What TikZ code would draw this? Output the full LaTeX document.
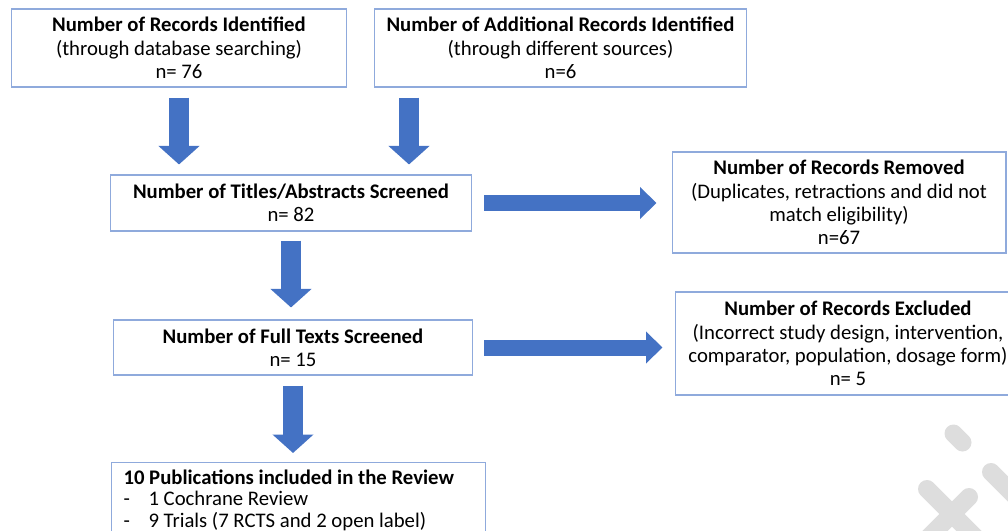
\documentclass[tikz,border=0pt]{standalone}
\usepackage{fontspec}
\setmainfont{Carlito}
\usetikzlibrary{positioning,arrows.meta}
\definecolor{boxline}{RGB}{143,170,220}
\definecolor{arrowblue}{RGB}{68,114,196}
\definecolor{wmgrey}{RGB}{221,221,221}
\tikzset{
  recbox/.style={draw=boxline,line width=0.6pt,fill=white,align=center,inner sep=2pt,font=\fontsize{11.8}{13.3}\selectfont},
  downarrow/.style={arrowblue,line width=0.39cm,-{Triangle[length=0.37cm,width=0.8cm]}},
  sidearrow/.style={arrowblue,line width=0.32cm,-{Triangle[length=0.33cm,width=0.62cm]}},
  wmstroke/.style={wmgrey,line width=0.36cm,line cap=round}
}

\begin{document}
\begin{tikzpicture}[x=0.02cm,y=-0.02cm]
  \clip (0,0) rectangle (1008,531);
  % boxes
  \node[recbox,minimum width=6.72cm,minimum height=1.56cm] (ident) at (179,48)
    {\textbf{Number of Records Identified}\\(through database searching)\\n= 76};
  \node[recbox,minimum width=7.46cm,minimum height=1.56cm] (addit) at (560.5,48)
    {\textbf{Number of Additional Records Identified}\\(through different sources)\\n=6};
  \node[recbox,minimum width=7.24cm,minimum height=1.12cm] (screen) at (291,203)
    {\textbf{Number of Titles/Abstracts Screened}\\n= 82};
  \node[recbox,minimum width=6.68cm,minimum height=2.02cm] (removed) at (839,202.5)
    {\textbf{Number of Records Removed}\\(Duplicates, retractions and did not\\match eligibility)\\n=67};
  \node[recbox,minimum width=7.2cm,minimum height=1.1cm] (full) at (293,347.5)
    {\textbf{Number of Full Texts Screened}\\n= 15};
  \node[recbox,minimum width=6.92cm,minimum height=2.06cm] (excl) at (848,343.5)
    {\textbf{Number of Records Excluded}\\(Incorrect study design, intervention,\\comparator, population, dosage form)\\n= 5};
  \node[recbox,align=flush left,anchor=north west,text width=7.0cm,inner xsep=0.24cm,inner ysep=0.15cm,
        font=\fontsize{11.8}{12.1}\selectfont] (incl) at (111,462)
    {\textbf{10 Publications included in the Review}\\
     \makebox[0.5cm][l]{-}1 Cochrane Review\\
     \makebox[0.5cm][l]{-}9 Trials (7 RCTS and 2 open label)};
  % block arrows
  \coordinate (colB) at (409,0);
  \draw[downarrow,shorten <=0.2cm,shorten >=0.2cm] (ident.south) -- (screen.north -| ident.south);
  \draw[downarrow,shorten <=0.2cm,shorten >=0.2cm] (addit.south -| colB) -- (screen.north -| colB);
  \draw[downarrow,shorten <=0.18cm,shorten >=0.24cm] (screen.south) -- (full.north -| screen.south);
  \draw[downarrow,shorten <=0.2cm,shorten >=0.18cm] (full.south) -- (incl.north -| full.south);
  \draw[sidearrow,shorten <=0.24cm,shorten >=0.3cm] (screen.east) -- (removed.west |- screen.east);
  \draw[sidearrow,shorten <=0.22cm,shorten >=0.24cm] (full.east) -- (excl.west |- full.east);
  % watermark remains
  \draw[wmstroke] (953.5,433.5) -- (962.5,442.5);
  \draw[wmstroke] (927,489) -- (990,552);
  \draw[wmstroke] (969,497) -- (920,546);
  \draw[wmstroke] (991,472) -- (1050,531);
\end{tikzpicture}
\end{document}
